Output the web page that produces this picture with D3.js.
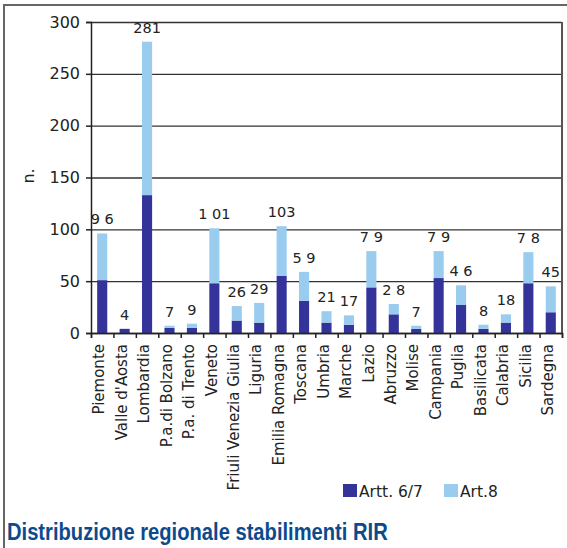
<!DOCTYPE html>
<html>
<head>
<meta charset="utf-8">
<script src="https://cdn.jsdelivr.net/npm/d3@7"></script>
<style>
  body { margin: 0; background: #fff; }
  text { font-family: "DejaVu Sans", sans-serif; fill: #222; }
</style>
</head>
<body>
<div id="dchart"></div>
<script>
// data
const regions = ["Piemonte", "Valle d'Aosta", "Lombardia", "P.a.di Bolzano", "P.a. di Trento",
  "Veneto", "Friuli Venezia Giulia", "Liguria", "Emilia Romagna", "Toscana", "Umbria",
  "Marche", "Lazio", "Abruzzo", "Molise", "Campania", "Puglia", "Basilicata", "Calabria",
  "Sicilia", "Sardegna"];
const artt67 = [51, 4, 133, 5, 5, 48, 12, 10, 55, 31, 10, 8, 44, 18, 4, 53, 27, 4, 10, 48, 20];
const art8 = [45, 0, 148, 2, 4, 53, 14, 19, 48, 28, 11, 9, 35, 10, 3, 26, 19, 4, 8, 30, 25];
const totalLabels = ["9 6", "4", "281", "7", "9", "1 01", "26", "29", "103", "5 9", "21",
  "17", "7 9", "2 8", "7", "7 9", "4 6", "8", "18", "7 8", "45"];
const yTicks = [0, 50, 100, 150, 200, 250, 300];
const seriesNames = ["Artt. 6/7", "Art.8"];
const colors = ["#333399", "#99ccee"];

const width = 567, height = 548;
const marge = { top: 22, left: 91, right: 5, bottom: 215 };

const svg = d3.select("#dchart").append("svg")
  .attr("width", width).attr("height", height);

svg.append("rect").attr("width", width).attr("height", height).attr("fill", "#fff");

// outer frame
svg.append("path")
  .attr("d", `M4,${height} V5 H${width}`)
  .attr("fill", "none").attr("stroke", "#666").attr("stroke-width", 2);

const x = d3.scaleBand().domain(regions)
  .range([marge.left, width - marge.right])
  .paddingInner(0.55).paddingOuter(0.275);
const xEdge = d3.scaleLinear().domain([0, regions.length])
  .range([marge.left, width - marge.right]);
const y = d3.scaleLinear().domain([0, 300]).range([height - marge.bottom, marge.top]);

// gridlines
svg.append("g")
  .attr("transform", `translate(${marge.left},0)`)
  .call(d3.axisLeft(y).tickValues(yTicks).tickSize(-(width - marge.left - marge.right)).tickFormat(""))
  .call(g => g.select(".domain").remove())
  .call(g => g.selectAll("line").attr("stroke", "#333").attr("stroke-width", 1.3));

// right border of plot area
svg.append("line")
  .attr("x1", width - marge.right).attr("x2", width - marge.right)
  .attr("y1", y(300)).attr("y2", y(0))
  .attr("stroke", "#555").attr("stroke-width", 2);

// stacked bars
const table = regions.map((r, i) => ({ region: r, a67: artt67[i], a8: art8[i] }));
const stacked = d3.stack().keys(["a67", "a8"])(table);

svg.append("g").selectAll("g").data(stacked).join("g")
  .attr("fill", (d, i) => colors[i])
  .selectAll("rect").data(d => d).join("rect")
  .attr("x", d => x(d.data.region))
  .attr("width", x.bandwidth())
  .attr("y", d => y(d[1]))
  .attr("height", d => y(d[0]) - y(d[1]));

// y axis
svg.append("g")
  .attr("transform", `translate(${marge.left},0)`)
  .call(d3.axisLeft(y).tickValues(yTicks).tickSize(5).tickPadding(6))
  .call(g => g.select(".domain").attr("stroke", "#222").attr("stroke-width", 1.5))
  .call(g => g.selectAll("line").attr("stroke", "#222").attr("stroke-width", 1.5))
  .call(g => g.selectAll("text").attr("font-size", 16).attr("font-family", "DejaVu Sans").attr("fill", "#222"));

// x axis ticks between categories
svg.append("g")
  .attr("transform", `translate(0,${y(0)})`)
  .call(d3.axisBottom(xEdge).tickValues(d3.range(regions.length + 1)).tickSize(5).tickFormat(""))
  .call(g => g.select(".domain").attr("stroke", "#222").attr("stroke-width", 1.5))
  .call(g => g.selectAll("line").attr("stroke", "#222").attr("stroke-width", 1.5));

// category labels
svg.append("g")
  .attr("transform", `translate(0,${y(0)})`)
  .call(d3.axisBottom(x).tickSize(0))
  .call(g => g.select(".domain").remove())
  .call(g => g.selectAll("text")
    .attr("transform", "rotate(-90)")
    .attr("x", -11).attr("y", -3).attr("dy", "0.35em")
    .attr("text-anchor", "end")
    .attr("font-size", 15).attr("font-family", "DejaVu Sans").attr("fill", "#222"));

// total labels
svg.append("g").selectAll("text").data(table).join("text")
  .attr("x", d => x(d.region) + x.bandwidth() / 2)
  .attr("y", d => y(d.a67 + d.a8) - 9)
  .attr("text-anchor", "middle")
  .attr("font-size", 14.5)
  .text((d, i) => totalLabels[i]);

// y title
svg.append("text")
  .attr("transform", "translate(34,176) rotate(-90)")
  .attr("text-anchor", "middle")
  .attr("font-size", 16)
  .text("n.");

// legend
const legend = svg.append("g").selectAll("g").data(seriesNames).join("g")
  .attr("transform", (d, i) => `translate(${[343, 444][i]},484)`);
legend.append("rect").attr("width", 14).attr("height", 13).attr("fill", (d, i) => colors[i]);
legend.append("text").attr("x", 16).attr("y", 13).attr("font-size", 15.5).text(d => d);

// title (condensed bold look)
svg.append("text")
  .attr("transform", "translate(7,540) scale(0.84,1)")
  .style("font-family", "'Liberation Sans', sans-serif")
  .style("font-weight", "bold").style("font-size", "24px")
  .style("fill", "#0d4a8c")
  .text("Distribuzione regionale stabilimenti RIR");
</script>
</body>
</html>
